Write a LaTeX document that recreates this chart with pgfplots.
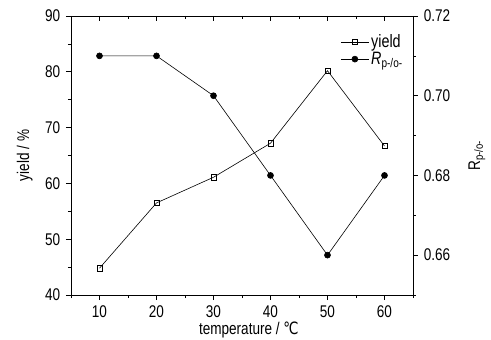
\documentclass[border=0pt]{standalone}
\usepackage{fontspec}
\setmainfont[FakeStretch=0.8]{Liberation Sans}
\newfontfamily\symfont[FakeStretch=0.8]{DejaVu Sans}
\usepackage{pgfplots}
\pgfplotsset{compat=1.18}
\begin{document}
\fontsize{17}{19}\selectfont
\begin{tikzpicture}
\path[use as bounding box] (-71bp,-45bp) rectangle (420bp,295bp);
\pgfplotsset{
  every axis/.append style={
    scale only axis, width=342bp, height=279bp,
    xmin=5, xmax=65,
    /pgf/number format/assume math mode=true,
    tick label style={font=\fontsize{17}{19}\selectfont},
    label style={font=\fontsize{17}{19}\selectfont},
    axis line style={line width=0.9pt},
    major tick length=5bp, minor tick length=3bp,
    every tick/.style={line width=0.7pt, black},
  }
}
% top axis with inward ticks
\begin{axis}[
  axis x line*=top, axis y line=none,
  ymin=40, ymax=90,
  xtick={10,20,30,40,50,60}, minor xtick={5,15,25,35,45,55,65},
  xticklabels={}, tick align=inside,
]
\end{axis}
\begin{axis}[
  axis x line*=bottom, axis y line*=left,
  ymin=40, ymax=90,
  xtick={10,20,30,40,50,60}, minor xtick={5,15,25,35,45,55,65},
  ytick={40,50,60,70,80,90}, minor ytick={45,55,65,75,85},
  tick align=outside,
  xlabel={temperature / {\symfont ℃}},
  ylabel={yield / \%},
  ylabel style={at={(axis description cs:-0.135,0.5)}, anchor=center},
  xlabel style={at={(axis description cs:0.52,-0.125)}, anchor=center},
]
\addplot[black, line width=0.6pt, mark=square, mark size=2.6pt, mark options={fill=white, line width=0.5pt}]
  coordinates {(10,44.8) (20,56.5) (30,61.1) (40,67.2) (50,80.2) (60,66.7)};
\end{axis}
\begin{axis}[
  axis x line=none, axis y line*=right,
  ymin=0.65, ymax=0.72,
  ytick={0.66,0.68,0.70,0.72}, minor ytick={0.65,0.67,0.69,0.71},
  yticklabel style={/pgf/number format/.cd, fixed, fixed zerofill, precision=2},
  tick align=outside,
  ylabel={R\textsubscript{p-/o-}},
  ylabel style={at={(axis description cs:1.187,0.5)}, anchor=center},
  legend style={draw=none, fill=none, at={(0.985,0.95)}, anchor=north east,
    font=\fontsize{18}{20}\selectfont, row sep=-2pt,
    nodes={inner xsep=2pt}},
  legend cell align=left,
  legend image code/.code={\draw[mark repeat=2,mark phase=2] plot coordinates {(0bp,0bp) (14bp,0bp) (28bp,0bp)};},
]
\addlegendimage{black, line width=0.6pt, mark=square, mark size=2.2pt, mark options={fill=white, line width=0.5pt}}
\addlegendentry{yield}
\addplot[black, line width=0.6pt, mark=*, mark size=3pt]
  coordinates {(10,0.71) (20,0.71) (30,0.70) (40,0.68) (50,0.66) (60,0.68)};
\addlegendentry{\textit{R}\textsubscript{p-/o-}}
\end{axis}
\end{tikzpicture}
\end{document}
